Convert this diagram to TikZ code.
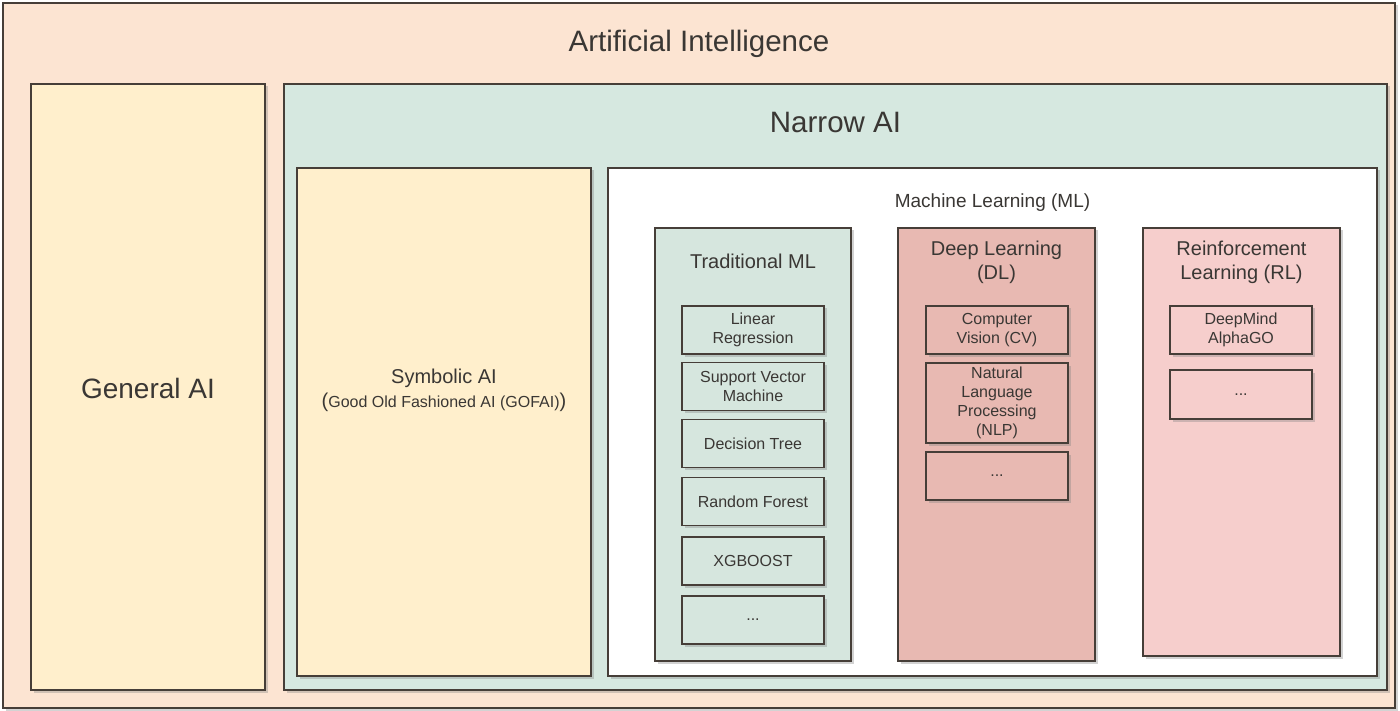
\documentclass[tikz,border=0pt]{standalone}
\usepackage{fontspec}
\setmainfont{Liberation Sans}
\usetikzlibrary{shadows}
\definecolor{aibg}{RGB}{252,228,210}
\definecolor{genbg}{RGB}{255,239,204}
\definecolor{narrowbg}{RGB}{214,232,224}
\definecolor{tradbg}{RGB}{214,230,222}
\definecolor{dlbg}{RGB}{232,185,178}
\definecolor{rlbg}{RGB}{246,206,204}
\definecolor{edge}{RGB}{70,62,56}
\definecolor{txt}{RGB}{58,55,52}
\newcommand{\fs}[2]{\fontsize{#1}{#2}\selectfont}
\newcommand{\itemw}{142}

\begin{document}
\begin{tikzpicture}[x=1pt,y=-1pt,
    every node/.style={text=txt},
    panel/.style={draw=edge, line width=1.2pt, rectangle, inner sep=0pt,
      drop shadow={shadow xshift=2.5pt, shadow yshift=-2.5pt, opacity=.35}},
    item/.style={panel, minimum width=\itemw, minimum height=48, align=center, font={\fs{16}{19}}}]
      \useasboundingbox (0,0) rectangle (1400,711);
      % containers
        \node (ai) at (699,355.5) [panel, fill=aibg, minimum width=1392, minimum height=705] {};
        \node (general) at (148,387) [panel, fill=genbg, minimum width=234, minimum height=606] {};
        \node (narrow) at (835.5,387) [panel, fill=narrowbg, minimum width=1103, minimum height=606] {};
        \node (symbolic) at (444,422) [panel, fill=genbg, minimum width=294, minimum height=508] {};
        \node (ml) at (992.5,422) [panel, fill=white, minimum width=769, minimum height=508] {};
        \node (trad) at (753,444.5) [panel, fill=tradbg, minimum width=196, minimum height=433] {};
        \node (dl) at (996.5,444.5) [panel, fill=dlbg, minimum width=197, minimum height=433] {};
        \node (rl) at (1241.5,442) [panel, fill=rlbg, minimum width=197, minimum height=428] {};

      % titles
        \node (aititle) at (699,44) [font={\fs{29.5}{35}}] {Artificial Intelligence};
        \node (narrowtitle) at (835.5,122) [font={\fs{29.5}{35}}] {Narrow AI};
        \node (generaltitle) at (148,388) [font={\fs{28}{34}}] {General AI};
        \node (symtitle) at (444,378) [font={\fs{20}{24}}] {Symbolic AI};
        \node (symsub) at (444,402) [font={\fs{16}{19}}] {{\fs{20}{24}(}Good Old Fashioned AI (GOFAI){\fs{20}{24})}};
        \node (mltitle) at (992.5,203) [font={\fs{19}{23}}] {Machine Learning (ML)};
        \node (tradtitle) at (753,261) [font={\fs{20}{24}}] {Traditional ML};
        \node (dltitle) at (996.5,262) [font={\fs{20}{24}}, align=center] {Deep Learning\\(DL)};
        \node (rltitle) at (1241.5,262) [font={\fs{20}{24}}, align=center] {Reinforcement\\Learning (RL)};

      % traditional ML
        \node (linreg) at (753,330) [item, fill=tradbg] {Linear\\Regression};
        \node (svm) at (753,386.5) [item, fill=tradbg] {Support Vector\\Machine};
        \node (dtree) at (753,443.5) [item, fill=tradbg] {Decision Tree};
        \node (rforest) at (753,501.5) [item, fill=tradbg] {Random Forest};
        \node (xgb) at (753,561) [item, fill=tradbg] {XGBOOST};
        \node (tradmore) at (753,620) [item, fill=tradbg] {...};

      % deep learning
        \node (cv) at (997,330) [item, fill=dlbg] {Computer\\Vision (CV)};
        \node (nlp) at (997,403) [item, fill=dlbg, minimum height=80] {Natural\\Language\\Processing\\(NLP)};
        \node (dlmore) at (997,476) [item, fill=dlbg] {...};

      % reinforcement learning
        \node (alphago) at (1241,330) [item, fill=rlbg] {DeepMind\\AlphaGO};
        \node (rlmore) at (1241,394.5) [item, fill=rlbg, minimum height=49] {...};
    \end{tikzpicture}
\end{document}
